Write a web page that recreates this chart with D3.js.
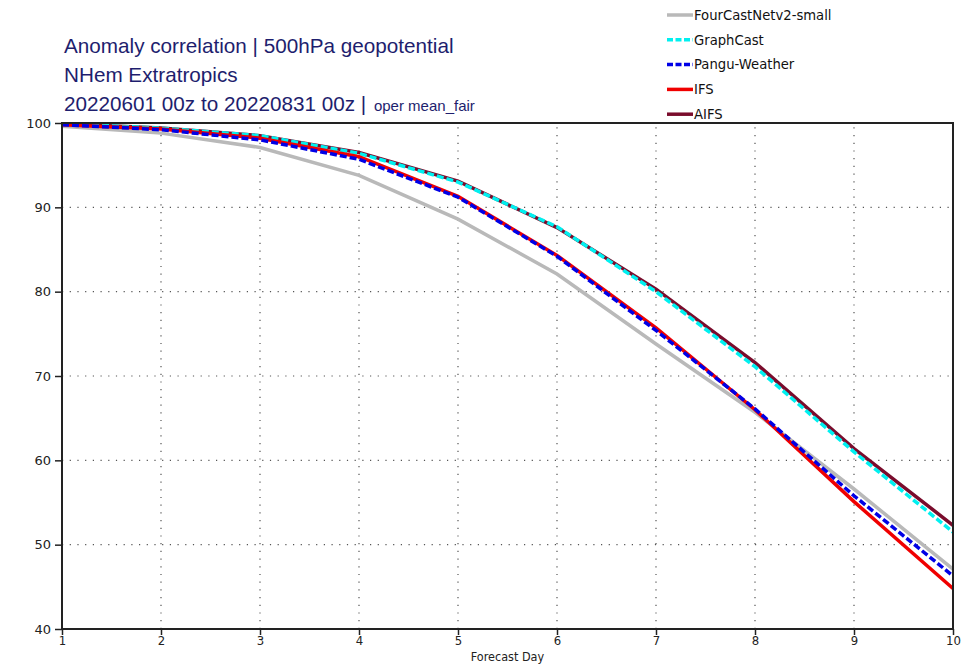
<!DOCTYPE html>
<html>
<head>
<meta charset="utf-8">
<script src="https://cdn.jsdelivr.net/npm/d3@7"></script>
<style>
  body { margin: 0; background: #fff; }
  svg { display: block; }
</style>
</head>
<body>
<div class="canvas"></div>
<script>
// data
const days = [1, 2, 3, 4, 5, 6, 7, 8, 9, 10]
const fourcastnet = [99.6, 98.8, 97.1, 93.8, 88.6, 82.1, 73.8, 65.7, 56.6, 47.1]
const graphcast = [99.9, 99.4, 98.5, 96.4, 93.0, 87.7, 80.0, 71.1, 61.0, 51.5]
const pangu = [99.8, 99.2, 98.0, 95.7, 91.2, 84.2, 75.4, 66.1, 55.8, 46.3]
const ifs = [99.8, 99.3, 98.2, 96.0, 91.3, 84.3, 75.7, 66.0, 55.1, 44.8]
const aifs = [99.9, 99.4, 98.5, 96.5, 93.1, 87.6, 80.3, 71.6, 61.4, 52.3]
const yTicks = [40, 50, 60, 70, 80, 90, 100]

const W = 976, H = 666
const margin = {top: 123, right: 23, bottom: 37, left: 62}

const svg = d3.select('.canvas').append('svg')
    .attr('width', W)
    .attr('height', H)

const x = d3.scaleLinear().domain([1, 10]).range([margin.left, W - margin.right])
const y = d3.scaleLinear().domain([40, 100]).range([H - margin.bottom, margin.top])

// dotted grid
const grid = svg.append('g')
grid.selectAll('line.v')
    .data(days.slice(1, -1))
    .enter().append('line')
    .attr('x1', d => x(d)).attr('x2', d => x(d))
    .attr('y1', y(40)).attr('y2', y(100))
    .attr('stroke', '#555').attr('stroke-width', 1.2)
    .attr('stroke-dasharray', '1.2,6.5')
grid.selectAll('line.h')
    .data(yTicks.slice(1, -1))
    .enter().append('line')
    .attr('y1', d => y(d)).attr('y2', d => y(d))
    .attr('x1', x(1)).attr('x2', x(10))
    .attr('stroke', '#555').attr('stroke-width', 1.2)
    .attr('stroke-dasharray', '1.2,6.5')

// series, drawn bottom to top
const series = [
    {name: 'FourCastNetv2-small', values: fourcastnet, color: '#b9b9b9', dash: null, width: 3.5},
    {name: 'GraphCast', values: graphcast, color: '#00f0f0', dash: '7,3', width: 3.5},
    {name: 'Pangu-Weather', values: pangu, color: '#0000e6', dash: '7,3', width: 3.5},
    {name: 'IFS', values: ifs, color: '#f00000', dash: null, width: 3.5},
    {name: 'AIFS', values: aifs, color: '#7a0c2c', dash: null, width: 3.5}
]
const drawOrder = [0, 4, 1, 3, 2]

const line = d3.line()
    .x((d, i) => x(days[i]))
    .y(d => y(d))

const plot = svg.append('g')
drawOrder.forEach(k => {
    const s = series[k]
    plot.append('path')
        .attr('d', line(s.values))
        .attr('fill', 'none')
        .attr('stroke', s.color)
        .attr('stroke-width', s.width)
        .attr('stroke-dasharray', s.dash)
})

// frame
svg.append('rect')
    .attr('x', x(1)).attr('y', y(100))
    .attr('width', x(10) - x(1))
    .attr('height', y(40) - y(100))
    .attr('fill', 'none')
    .attr('stroke', '#222')
    .attr('stroke-width', 2)

// axes
const yAxis = svg.append('g')
    .attr('transform', `translate(${x(1)},0)`)
    .call(d3.axisLeft(y).tickValues(yTicks).tickSize(7).tickPadding(4))
yAxis.select('.domain').remove()
yAxis.selectAll('text')
    .attr('font-family', 'DejaVu Sans').attr('font-size', 13).attr('fill', '#222')
yAxis.selectAll('line').attr('stroke', '#222').attr('stroke-width', 1.5)

const xAxis = svg.append('g')
    .attr('transform', `translate(0,${y(40)})`)
    .call(d3.axisBottom(x).tickValues(days).tickFormat(d3.format('d')).tickSize(6).tickPadding(1))
xAxis.select('.domain').remove()
xAxis.selectAll('text')
    .attr('font-family', 'DejaVu Sans Condensed, DejaVu Sans').attr('font-size', 13).attr('fill', '#222')
xAxis.selectAll('line').attr('stroke', '#222').attr('stroke-width', 1.5)

svg.append('text')
    .attr('x', (x(1) + x(10)) / 2)
    .attr('y', 661)
    .attr('text-anchor', 'middle')
    .attr('font-family', 'DejaVu Sans Condensed, DejaVu Sans')
    .attr('font-size', 12.5)
    .attr('fill', '#222')
    .text('Forecast Day')

// title block
const titleColor = '#1e1e6e'
const tFont = 'Liberation Sans, Arial, sans-serif'
svg.append('text').attr('x', 64).attr('y', 53)
    .attr('font-family', tFont).attr('font-size', 20.7).attr('fill', titleColor)
    .text('Anomaly correlation | 500hPa geopotential')
svg.append('text').attr('x', 64).attr('y', 82)
    .attr('font-family', tFont).attr('font-size', 20.7).attr('fill', titleColor)
    .text('NHem Extratropics')
const t3 = svg.append('text').attr('x', 64).attr('y', 111)
    .attr('font-family', tFont).attr('font-size', 20.7).attr('fill', titleColor)
t3.append('tspan').text('20220601 00z to 20220831 00z | ')
t3.append('tspan').attr('font-size', 15).attr('dx', 2).text('oper mean_fair')

// legend
const legend = svg.append('g')
series.forEach((s, i) => {
    const ly = 15 + i * 24.8
    legend.append('line')
        .attr('x1', 667).attr('x2', 693)
        .attr('y1', ly).attr('y2', ly)
        .attr('stroke', s.color)
        .attr('stroke-width', s.width)
        .attr('stroke-dasharray', s.dash ? '6,2.5' : null)
    legend.append('text')
        .attr('x', 694).attr('y', ly + 4.8)
        .attr('font-family', 'DejaVu Sans').attr('font-size', 13.2).attr('fill', '#111')
        .text(s.name)
})
</script>
</body>
</html>
